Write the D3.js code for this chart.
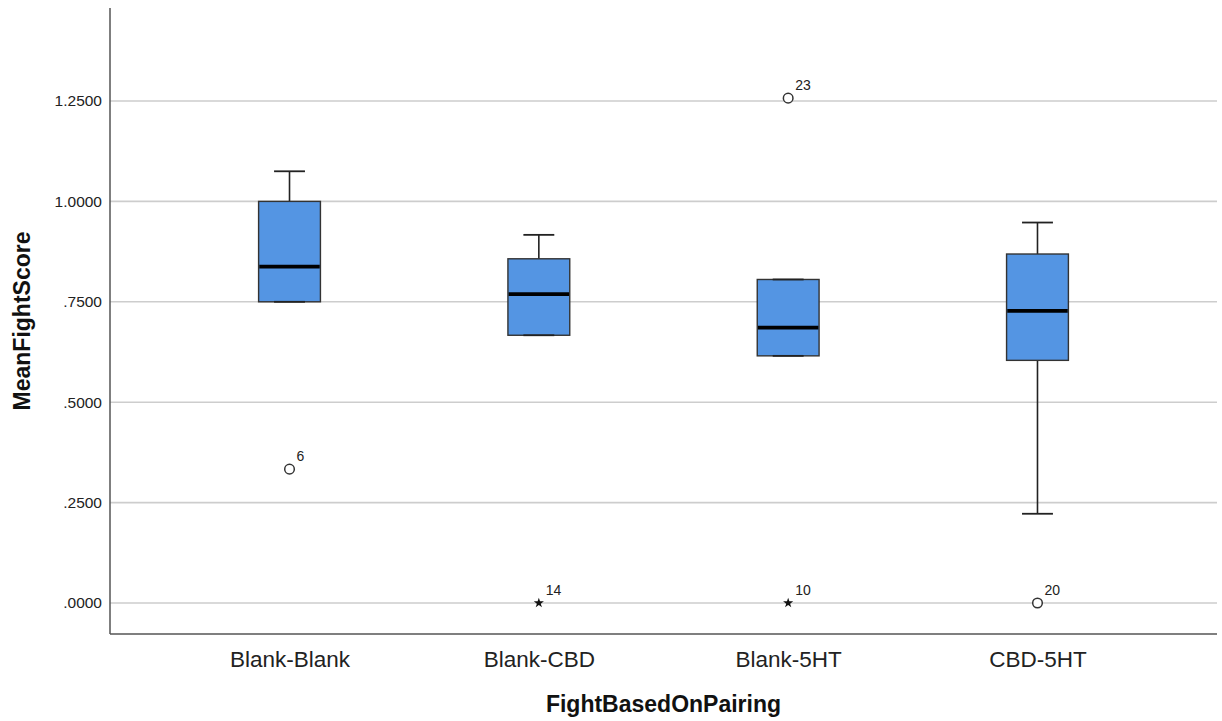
<!DOCTYPE html>
<html>
<head>
<meta charset="utf-8">
<script src="https://cdn.jsdelivr.net/npm/d3@7"></script>
<style>
  html, body { margin: 0; padding: 0; background: #ffffff; }
  svg { display: block; font-family: "Liberation Sans", Arial, sans-serif; }
</style>
</head>
<body>
<svg id="chart" width="1222" height="721"></svg>
<script>
// Five-number summaries per pairing
const categories = ["Blank-Blank", "Blank-CBD", "Blank-5HT", "CBD-5HT"];
const whiskerLow  = [0.7500, 0.6667, 0.6154, 0.2222];
const q1          = [0.7500, 0.6667, 0.6154, 0.6042];
const median      = [0.8375, 0.7692, 0.6857, 0.7273];
const q3          = [1.0000, 0.8571, 0.8056, 0.8690];
const whiskerHigh = [1.0750, 0.9167, 0.8056, 0.9474];

// Outliers (circle) and extreme values (star), labelled with case numbers
const outlierCategory = ["Blank-Blank", "Blank-CBD", "Blank-5HT", "Blank-5HT", "CBD-5HT"];
const outlierValue    = [0.3333, 0.0000, 1.2571, 0.0000, 0.0000];
const outlierCase     = ["6", "14", "23", "10", "20"];
const outlierKind     = ["outlier", "extreme", "outlier", "extreme", "outlier"];

const yTicks = [0, 0.25, 0.5, 0.75, 1.0, 1.25];

const svg = d3.select("#chart");
const plotLeft = 110, plotRight = 1217, plotTop = 8, plotBottom = 634;

const x = d3.scalePoint().domain(categories).range([plotLeft, plotRight]).padding(0.72);
const y = d3.scaleLinear().domain([-0.0772, 1.4816]).range([plotBottom, plotTop]);

const boxW = x.step() * 0.248;
const capW = boxW * 0.5;

// Horizontal gridlines
svg.append("g")
  .selectAll("line")
  .data(yTicks)
  .join("line")
  .attr("x1", plotLeft).attr("x2", plotRight)
  .attr("y1", d => y(d)).attr("y2", d => y(d))
  .attr("stroke", "#cdcdcd")
  .attr("stroke-width", 1.6);

// Y axis
const yAxis = d3.axisLeft(y)
  .tickValues(yTicks)
  .tickSize(0)
  .tickPadding(8)
  .tickFormat(d => d3.format(".4f")(d).replace(/^0/, ""));
const gy = svg.append("g").attr("transform", `translate(${plotLeft},0)`).call(yAxis);
gy.select(".domain").remove();
gy.selectAll("text")
  .attr("font-size", 15.5)
  .attr("fill", "#222")
  .attr("font-family", "'Liberation Sans', Arial, sans-serif");

// X axis labels
const xAxis = d3.axisBottom(x).tickSize(0).tickPadding(17);
const gx = svg.append("g").attr("transform", `translate(0,${plotBottom})`).call(xAxis);
gx.select(".domain").remove();
gx.selectAll("text")
  .attr("font-size", 22.5)
  .attr("fill", "#222")
  .attr("font-family", "'Liberation Sans', Arial, sans-serif");

// Axis frame lines
svg.append("line")
  .attr("x1", plotLeft).attr("x2", plotLeft).attr("y1", plotTop).attr("y2", plotBottom)
  .attr("stroke", "#555").attr("stroke-width", 1.5);
svg.append("line")
  .attr("x1", plotLeft).attr("x2", plotRight).attr("y1", plotBottom).attr("y2", plotBottom)
  .attr("stroke", "#555").attr("stroke-width", 1.5);

// Boxplots
const stats = categories.map((c, i) => ({
  c, lo: whiskerLow[i], q1: q1[i], med: median[i], q3: q3[i], hi: whiskerHigh[i]
}));

const g = svg.append("g").selectAll("g").data(stats).join("g");

// whisker stems
g.append("line")
  .attr("x1", d => x(d.c)).attr("x2", d => x(d.c))
  .attr("y1", d => y(d.hi)).attr("y2", d => y(d.q3))
  .attr("stroke", "#222").attr("stroke-width", 1.6);
g.append("line")
  .attr("x1", d => x(d.c)).attr("x2", d => x(d.c))
  .attr("y1", d => y(d.q1)).attr("y2", d => y(d.lo))
  .attr("stroke", "#222").attr("stroke-width", 1.6);

// boxes
g.append("rect")
  .attr("x", d => x(d.c) - boxW / 2)
  .attr("width", boxW)
  .attr("y", d => y(d.q3))
  .attr("height", d => y(d.q1) - y(d.q3))
  .attr("fill", "#5495e3")
  .attr("stroke", "#333")
  .attr("stroke-width", 1.4);

// whisker caps
g.append("line")
  .attr("x1", d => x(d.c) - capW / 2).attr("x2", d => x(d.c) + capW / 2)
  .attr("y1", d => y(d.hi)).attr("y2", d => y(d.hi))
  .attr("stroke", "#222").attr("stroke-width", 1.8);
g.append("line")
  .attr("x1", d => x(d.c) - capW / 2).attr("x2", d => x(d.c) + capW / 2)
  .attr("y1", d => y(d.lo)).attr("y2", d => y(d.lo))
  .attr("stroke", "#222").attr("stroke-width", 1.8);

// medians
g.append("line")
  .attr("x1", d => x(d.c) - boxW / 2 + 0.7).attr("x2", d => x(d.c) + boxW / 2 - 0.7)
  .attr("y1", d => y(d.med)).attr("y2", d => y(d.med))
  .attr("stroke", "#000").attr("stroke-width", 3.6);

// Outliers and extremes
const pts = outlierValue.map((v, i) => ({
  c: outlierCategory[i], v, label: outlierCase[i], kind: outlierKind[i]
}));
const pg = svg.append("g").selectAll("g").data(pts).join("g")
  .attr("transform", d => `translate(${x(d.c)},${y(d.v)})`);

pg.filter(d => d.kind === "outlier").append("circle")
  .attr("r", 4.8)
  .attr("fill", "#fff")
  .attr("stroke", "#333")
  .attr("stroke-width", 1.5);

pg.filter(d => d.kind === "extreme").append("path")
  .attr("d", d3.symbol(d3.symbolStar, 32))
  .attr("fill", "#111");

pg.append("text")
  .attr("x", 7)
  .attr("y", -8)
  .attr("font-size", 14)
  .attr("fill", "#222")
  .text(d => d.label);

// Axis titles
svg.append("text")
  .attr("x", (plotLeft + plotRight) / 2)
  .attr("y", 712)
  .attr("text-anchor", "middle")
  .attr("font-size", 23)
  .attr("font-weight", "bold")
  .attr("fill", "#111")
  .text("FightBasedOnPairing");

svg.append("text")
  .attr("transform", `translate(30,${(plotTop + plotBottom) / 2}) rotate(-90)`)
  .attr("text-anchor", "middle")
  .attr("font-size", 23)
  .attr("font-weight", "bold")
  .attr("fill", "#111")
  .text("MeanFightScore");
</script>
</body>
</html>
